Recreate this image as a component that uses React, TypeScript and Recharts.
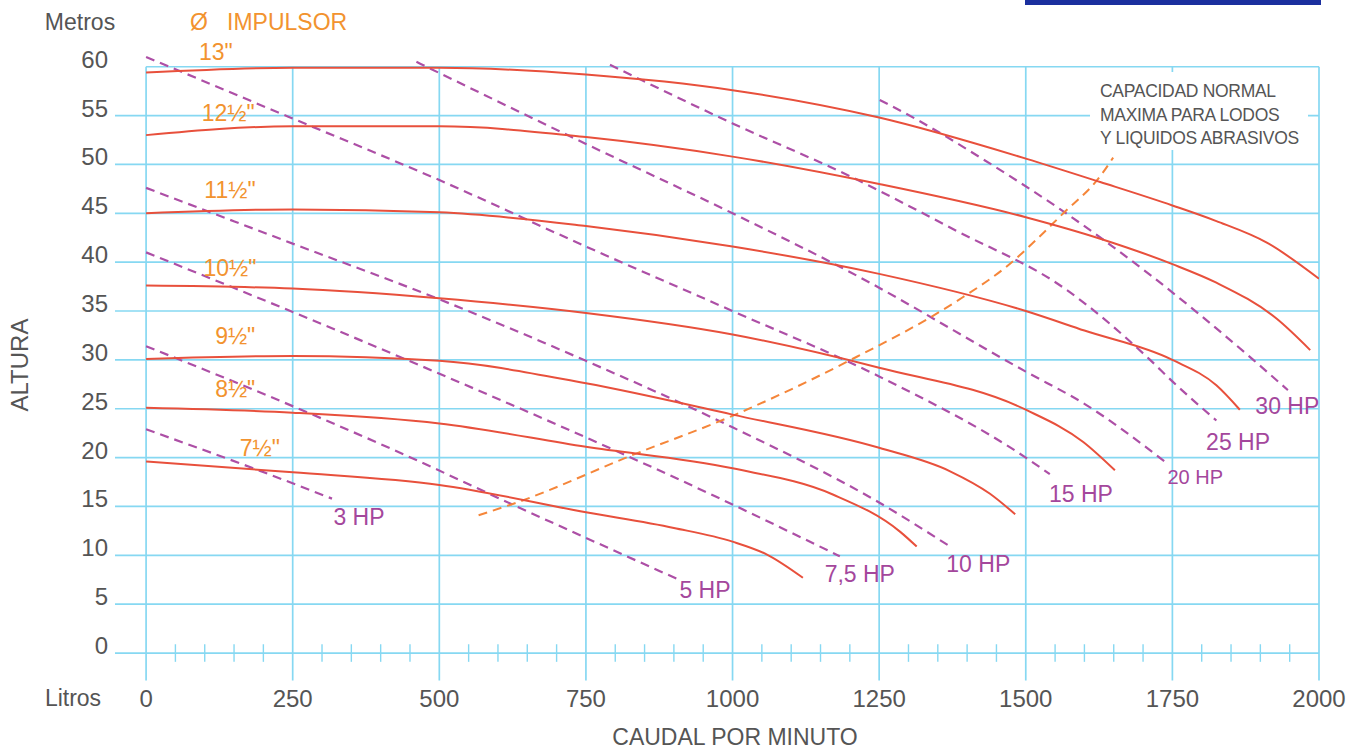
import { LineChart, Line, XAxis, YAxis, ReferenceLine, ReferenceDot } from "recharts";

// caudal (litros por minuto) vs altura (metros)
const xTicks = [0, 250, 500, 750, 1000, 1250, 1500, 1750, 2000];
const yTicks = [0, 5, 10, 15, 20, 25, 30, 35, 40, 45, 50, 55, 60];
const minorTicks = [
  50, 100, 150, 200, 300, 350, 400, 450, 550, 600, 650, 700, 800, 850, 900, 950,
  1050, 1100, 1150, 1200, 1300, 1350, 1400, 1450, 1550, 1600, 1650, 1700, 1800, 1850, 1900, 1950,
];

// curvas por diametro de impulsor [caudal, altura]
const imp13 = [[0, 59.4], [250, 59.9], [500, 59.9], [750, 59.2], [1000, 57.6], [1250, 54.8], [1500, 50.6], [1627, 48.2], [1750, 45.8], [1825, 44.2], [1911, 42.0], [2000, 38.3]];
const imp125 = [[0, 53.0], [250, 53.9], [500, 53.9], [750, 52.8], [1000, 50.8], [1250, 48.0], [1500, 44.6], [1627, 42.4], [1750, 39.8], [1825, 37.9], [1928, 34.2], [1985, 31.0]];
const imp115 = [[0, 45.0], [250, 45.4], [500, 45.1], [750, 43.7], [1000, 41.6], [1250, 38.8], [1500, 35.0], [1600, 33.0], [1750, 30.0], [1825, 27.4], [1865, 24.9]];
const imp105 = [[0, 37.6], [250, 37.3], [500, 36.3], [750, 34.8], [1000, 32.6], [1250, 29.2], [1500, 24.9], [1598, 21.6], [1652, 18.7]];
const imp95 = [[0, 30.1], [250, 30.4], [500, 29.9], [750, 27.6], [1000, 24.4], [1250, 21.0], [1371, 18.6], [1439, 16.3], [1482, 14.2]];
const imp85 = [[0, 25.1], [250, 24.6], [500, 23.5], [750, 21.1], [1000, 18.9], [1172, 16.2], [1286, 12.4], [1314, 10.9]];
const imp75 = [[0, 19.6], [250, 18.5], [500, 17.2], [750, 14.4], [900, 12.8], [1000, 11.4], [1058, 10.1], [1120, 7.7]];

// lineas de potencia
const hp3 = [[0, 22.9], [183, 18.9], [317, 15.8]];
const hp5 = [[0, 31.4], [205, 26.4], [433, 20.5], [632, 15.0], [905, 7.6]];
const hp75 = [[0, 41.0], [250, 34.9], [433, 30.3], [1000, 15.2], [1183, 9.9]];
const hp10 = [[0, 47.6], [250, 41.9], [500, 36.2], [750, 29.9], [1000, 23.1], [1250, 15.4], [1371, 10.9]];
const hp15 = [[0, 61.0], [250, 54.7], [500, 48.4], [750, 41.6], [1000, 35.0], [1250, 28.3], [1500, 20.0], [1541, 18.3]];
const hp20 = [[461, 60.5], [750, 52.1], [1000, 45.0], [1200, 39.0], [1500, 28.8], [1600, 25.5], [1737, 19.6]];
const hp25 = [[791, 60.2], [1000, 54.2], [1200, 48.8], [1382, 43.2], [1564, 37.4], [1712, 30.0], [1750, 27.8], [1825, 23.8]];
const hp30 = [[1251, 56.6], [1314, 54.6], [1428, 50.5], [1564, 45.2], [1712, 38.7], [1888, 30.0], [1947, 26.9]];

// capacidad normal maxima para lodos
const capLimit = [[567, 14.1], [632, 15.4], [831, 20.3], [1001, 24.3], [1195, 29.8], [1382, 36.0], [1462, 39.3], [1564, 45.0], [1627, 48.8], [1649, 50.7]];

const impCurves = [imp13, imp125, imp115, imp105, imp95, imp85, imp75];
const impNames = ['13"', '12½"', '11½"', '10½"', '9½"', '8½"', '7½"'];
const impLabelAt = [[119, 61.5], [140, 55.3], [143, 47.4], [143, 39.4], [152, 32.5], [152, 27.0], [194, 21.0]];

const hpCurves = [hp3, hp5, hp75, hp10, hp15, hp20, hp25, hp30];
const hpNames = ["3 HP", "5 HP", "7,5 HP", "10 HP", "15 HP", "20 HP", "25 HP", "30 HP"];
const hpLabelAt = [[363, 13.9], [953, 6.5], [1217, 8.1], [1419, 9.1], [1594, 16.3], [1789, 18.0], [1862, 21.6], [1946, 25.3]];

const GRID = "#86d8f2";
const RED = "#e8503c";
const PURPLE = "#ad4fa6";
const ORANGE = "#f2932f";
const TEXT = "#555";

const pts = (pairs: number[][]) => pairs.map(([x, y]) => ({ x, y }));

const XTick = ({ x, y, payload }: any) => (
  <text x={x} y={y + 27} textAnchor="middle" fontSize={24} fill={TEXT}>
    {payload.value}
  </text>
);

const YTick = ({ x, y, payload }: any) => (
  <text x={x} y={y + 1} textAnchor="end" fontSize={24} fill={TEXT}>
    {payload.value}
  </text>
);

const abs = (left: number, top: number, extra: React.CSSProperties = {}): React.CSSProperties => ({
  position: "absolute",
  left,
  top,
  lineHeight: "24px",
  transform: "translate(-50%, -50%)",
  whiteSpace: "nowrap",
  ...extra,
});

export default function App() {
  return (
    <div
      style={{
        position: "absolute",
        left: 0,
        top: 0,
        width: 1360,
        height: 750,
        background: "#fff",
        overflow: "hidden",
        fontFamily: '"Liberation Sans", Arial, sans-serif',
      }}
    >
      <div style={{ position: "absolute", left: 1025, top: 0, width: 296, height: 5, background: "#1b2f9e" }} />

      <LineChart width={1360} height={750} margin={{ top: 55, right: 41, left: 55, bottom: 29.6 }}>
        <XAxis
          type="number"
          dataKey="x"
          domain={[-53, 2000]}
          ticks={xTicks}
          allowDataOverflow
          axisLine={false}
          tickLine={false}
          tickSize={0}
          tickMargin={0}
          height={40}
          tick={<XTick />}
        />
        <YAxis
          type="number"
          domain={[-2.8, 61.2]}
          ticks={yTicks}
          allowDataOverflow
          axisLine={false}
          tickLine={false}
          tickSize={0}
          tickMargin={7}
          width={60}
          tick={<YTick />}
        />

        {yTicks
          .filter((v) => v < 60)
          .map((v) => (
            <ReferenceLine key={"h" + v} segment={[{ x: -53, y: v }, { x: 2000, y: v }]} stroke={GRID} strokeWidth={1.7} />
          ))}
        <ReferenceLine segment={[{ x: 0, y: 60 }, { x: 2000, y: 60 }]} stroke={GRID} strokeWidth={1.7} />
        {xTicks.map((v) => (
          <ReferenceLine key={"v" + v} segment={[{ x: v, y: -2.8 }, { x: v, y: 60 }]} stroke={GRID} strokeWidth={1.7} />
        ))}
        {minorTicks.map((v) => (
          <ReferenceLine key={"m" + v} segment={[{ x: v, y: -0.9 }, { x: v, y: 0.9 }]} stroke={GRID} strokeWidth={1.4} />
        ))}

        {hpCurves.map((c, i) => (
          <Line
            key={"hp" + i}
            data={pts(c)}
            dataKey="y"
            type="monotone"
            stroke={PURPLE}
            strokeWidth={2.2}
            strokeDasharray="9 6"
            dot={false}
            activeDot={false}
            isAnimationActive={false}
          />
        ))}

        <Line
          data={pts(capLimit)}
          dataKey="y"
          type="monotone"
          stroke="#f5863a"
          strokeWidth={2}
          strokeDasharray="9 6"
          dot={false}
          activeDot={false}
          isAnimationActive={false}
        />

        {impCurves.map((c, i) => (
          <Line
            key={"imp" + i}
            data={pts(c)}
            dataKey="y"
            type="monotone"
            stroke={RED}
            strokeWidth={2}
            dot={false}
            activeDot={false}
            isAnimationActive={false}
          />
        ))}

        {impNames.map((name, i) => (
          <ReferenceDot
            key={"il" + i}
            x={impLabelAt[i][0]}
            y={impLabelAt[i][1]}
            r={0}
            fill="none"
            stroke="none"
            ifOverflow="visible"
            label={{ value: name, position: "center", fill: ORANGE, fontSize: 23 }}
          />
        ))}
        {hpNames.map((name, i) => (
          <ReferenceDot
            key={"hl" + i}
            x={hpLabelAt[i][0]}
            y={hpLabelAt[i][1]}
            r={0}
            fill="none"
            stroke="none"
            ifOverflow="visible"
            label={{ value: name, position: "center", fill: "#a4479c", fontSize: name === "20 HP" ? 20 : 23 }}
          />
        ))}
      </LineChart>

      <div style={abs(80, 22, { fontSize: 23, color: TEXT })}>Metros</div>
      <div style={{ position: "absolute", left: 190, top: 10, fontSize: 23, lineHeight: "24px", color: ORANGE, whiteSpace: "pre" }}>
        {"Ø   IMPULSOR"}
      </div>
      <div style={abs(20, 365, { fontSize: 24, color: TEXT, transform: "translate(-50%, -50%) rotate(-90deg)" })}>ALTURA</div>
      <div style={abs(73, 698, { fontSize: 23, color: TEXT })}>Litros</div>
      <div style={abs(735, 737, { fontSize: 23, color: TEXT })}>CAUDAL POR MINUTO</div>

      <div
        style={{
          position: "absolute",
          left: 1090,
          top: 72,
          width: 218,
          height: 78,
          background: "#fff",
          boxSizing: "border-box",
          paddingLeft: 10,
          paddingTop: 8,
          fontSize: 17.5,
          lineHeight: "23.5px",
          color: TEXT,
          letterSpacing: -0.3,
          whiteSpace: "nowrap",
        }}
      >
        CAPACIDAD NORMAL
        <br />
        MAXIMA PARA LODOS
        <br />
        Y LIQUIDOS ABRASIVOS
      </div>
    </div>
  );
}
